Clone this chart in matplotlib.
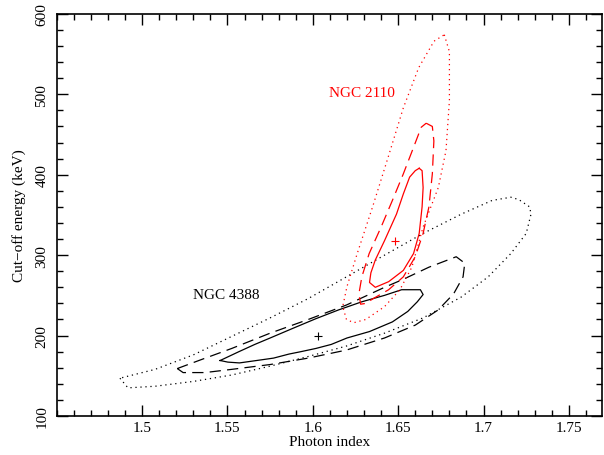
import numpy as np
import matplotlib
matplotlib.use("Agg")
import matplotlib.pyplot as plt
from matplotlib.ticker import MultipleLocator, FixedLocator

plt.rcParams["font.family"] = ["Liberation Serif", "DejaVu Serif"]

# NGC 2110 contours (photon index, cut-off energy keV)
n2110_in_x = [1.6623, 1.664, 1.6646, 1.664, 1.6623, 1.659, 1.653, 1.6444, 1.6366, 1.6332,
              1.634, 1.6366, 1.642, 1.649, 1.653, 1.6567, 1.660, 1.6623]
n2110_in_y = [408, 405, 384, 360, 327, 302, 281, 267, 260, 266,
              278, 294, 318, 351, 376, 397, 405, 408]
n2110_mid_x = [1.6664, 1.670, 1.6709, 1.670, 1.668, 1.6646, 1.660, 1.653, 1.6444, 1.6354,
               1.631, 1.628, 1.627, 1.6287, 1.633, 1.640, 1.6466, 1.653, 1.659, 1.6635, 1.6664]
n2110_mid_y = [464, 460, 442, 401, 360, 327, 298, 273, 257, 246,
               240, 239, 252, 273, 302, 335, 368, 401, 434, 459, 464]
n2110_out_x = [1.677, 1.680, 1.680, 1.678, 1.6735, 1.6646, 1.658, 1.651, 1.642, 1.631,
               1.624, 1.6197, 1.6175, 1.620, 1.626, 1.635, 1.644, 1.653, 1.662, 1.671, 1.677]
n2110_out_y = [574, 553, 492, 430, 384, 335, 285, 257, 236, 220,
               216, 220, 236, 261, 302, 360, 421, 483, 533, 566, 574]
n2110_best = (1.648, 317)

# NGC 4388 contours
n4388_in_x = [1.5457, 1.5567, 1.566, 1.575, 1.5883, 1.6018, 1.6152, 1.6287, 1.642, 1.652,
              1.663, 1.6646, 1.6612, 1.6556, 1.6466, 1.6332, 1.620, 1.6108, 1.6018, 1.593,
              1.586, 1.577, 1.5704, 1.557, 1.5502, 1.5457]
n4388_in_y = [169, 180, 189, 197, 209, 221, 232, 242, 250, 257,
              257, 251, 242, 230, 217, 205, 197, 189, 184, 180,
              177, 172, 170, 166, 167, 169]
n4388_mid_x = [1.5206, 1.5345, 1.5525, 1.575, 1.5973, 1.6197, 1.642, 1.653, 1.668, 1.684,
               1.689, 1.688, 1.6825, 1.6735, 1.660, 1.642, 1.6197, 1.5973, 1.575, 1.5525,
               1.5368, 1.524, 1.5206]
n4388_mid_y = [159, 170, 184, 203, 220, 238, 260, 270, 285, 298,
               290, 273, 252, 232, 213, 197, 182, 172, 164, 158,
               154, 154, 159]
n4388_out_x = [1.487, 1.4917, 1.5076, 1.530, 1.5525, 1.575, 1.5973, 1.6197, 1.642, 1.6646,
               1.687, 1.7027, 1.716, 1.725, 1.7278, 1.727, 1.7207, 1.716, 1.705, 1.687,
               1.6646, 1.642, 1.6197, 1.5973, 1.575, 1.5525, 1.530, 1.5076, 1.487]
n4388_out_y = [147, 135, 137, 143, 151, 162, 174, 187, 203, 222,
               248, 273, 302, 327, 351, 360, 369, 372, 368, 351,
               327, 300, 273, 246, 222, 199, 176, 158, 147]
n4388_best = (1.603, 200)

x_ticks = [1.5, 1.55, 1.6, 1.65, 1.7, 1.75]
x_ticklabels = ["1.5", "1.55", "1.6", "1.65", "1.7", "1.75"]
y_ticks = [100, 200, 300, 400, 500, 600]

fig = plt.figure(figsize=(6.04, 4.56), dpi=100)
ax = fig.add_axes([0.094, 0.0855, 0.903, 0.882])

dash = (0, (9, 5))
dot = (0, (1, 3))

ax.plot(n4388_in_x, n4388_in_y, color="black", lw=0.9, ls="-")
ax.plot(n4388_mid_x, n4388_mid_y, color="black", lw=0.9, ls=dash)
ax.plot(n4388_out_x, n4388_out_y, color="black", lw=0.9, ls=dot)
ax.plot(*n4388_best, marker="+", color="black", ms=6, mew=0.8)

ax.plot(n2110_in_x, n2110_in_y, color="red", lw=0.9, ls="-")
ax.plot(n2110_mid_x, n2110_mid_y, color="red", lw=0.9, ls=dash)
ax.plot(n2110_out_x, n2110_out_y, color="red", lw=0.9, ls=dot)
ax.plot(*n2110_best, marker="+", color="red", ms=6, mew=0.8)

ax.text(1.629, 502, "NGC 2110", color="red", fontsize=11, ha="center", va="center")
ax.text(1.549, 251, "NGC 4388", color="black", fontsize=11, ha="center", va="center")

ax.set_xlim(1.45, 1.7695)
ax.set_ylim(100, 600)
ax.xaxis.set_major_locator(FixedLocator(x_ticks))
ax.set_xticklabels(x_ticklabels)
ax.xaxis.set_minor_locator(MultipleLocator(0.01))
ax.yaxis.set_major_locator(FixedLocator(y_ticks))
ax.yaxis.set_minor_locator(MultipleLocator(20))
ax.tick_params(which="both", direction="in", top=True, right=True, labelsize=11, width=1)
ax.tick_params(which="major", length=8)
ax.tick_params(which="minor", length=4)
ax.tick_params(axis="y", pad=6)
for lab in ax.get_yticklabels():
    lab.set_rotation(90)
    lab.set_va("center")
for s in ax.spines.values():
    s.set_linewidth(1.2)

ax.set_xlabel("Photon index", fontsize=11, labelpad=1)
ax.set_ylabel("Cut\u2212off energy (keV)", fontsize=11, labelpad=7)

fig.savefig("out.png", dpi=100)
